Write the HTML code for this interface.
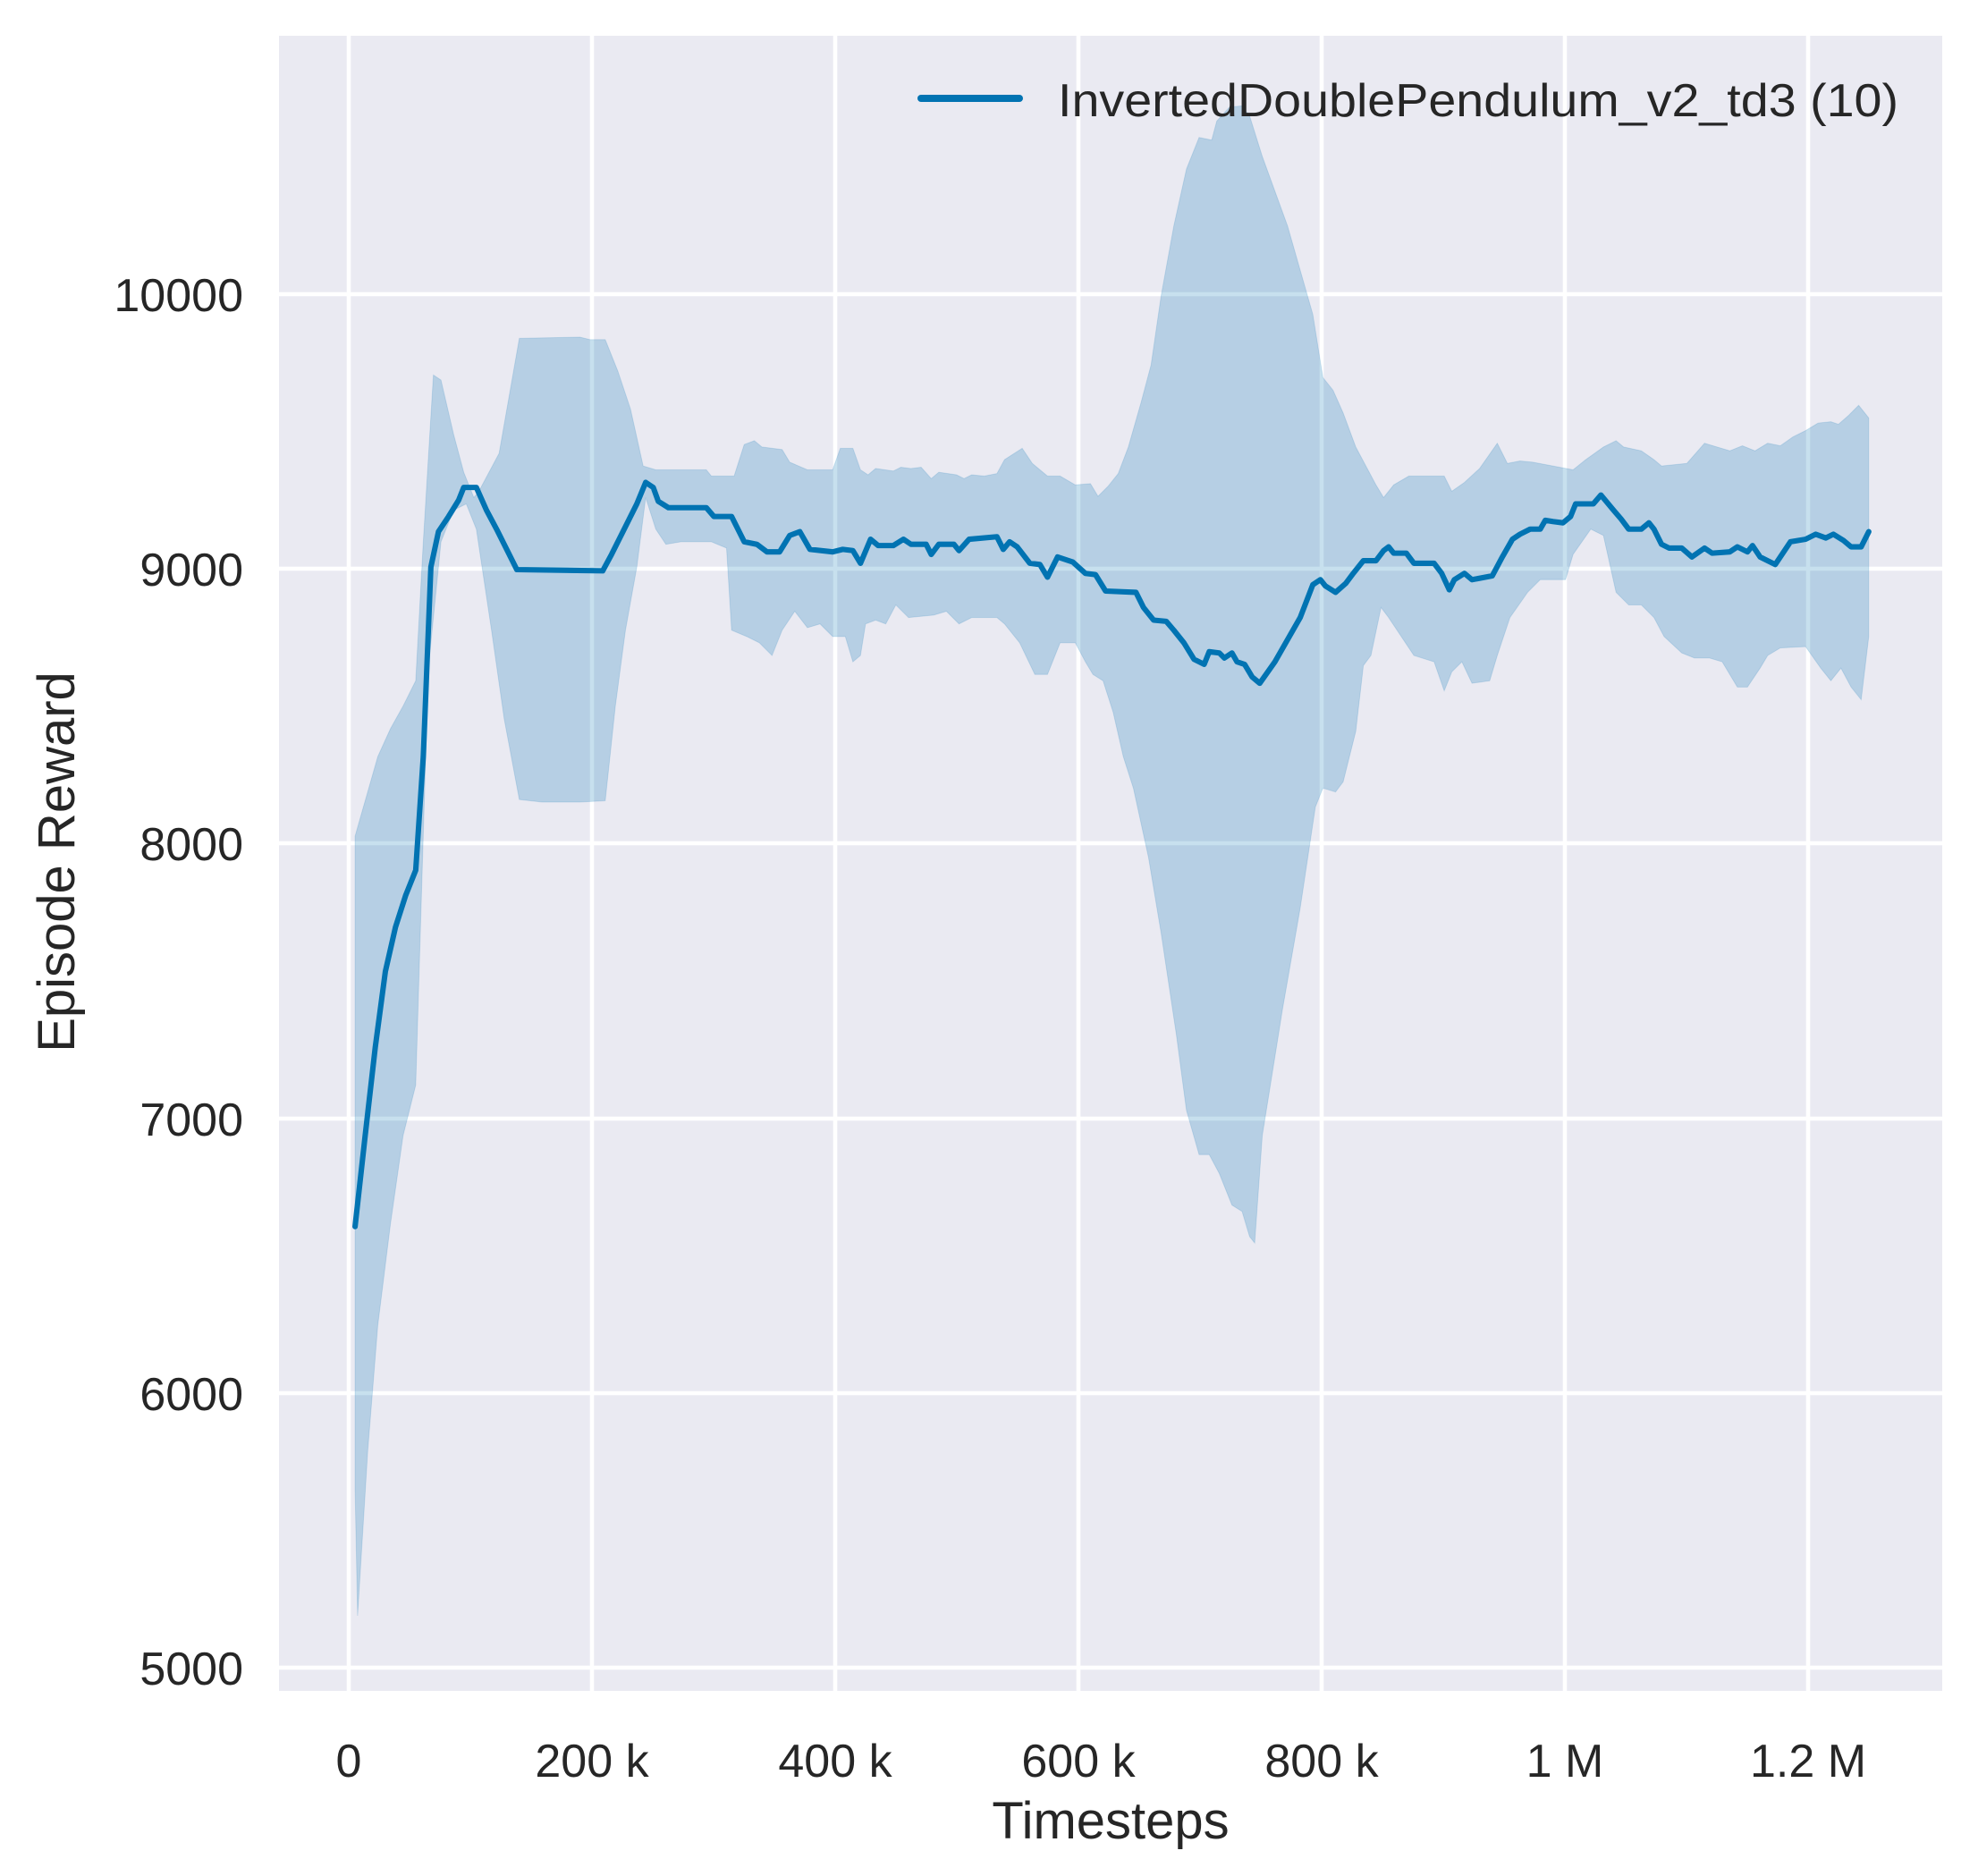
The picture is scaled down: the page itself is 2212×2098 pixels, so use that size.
<!DOCTYPE html>
<html><head><meta charset="utf-8"><style>
html,body{margin:0;padding:0;background:#fff}
svg{display:block}
text{font-family:"Liberation Sans",sans-serif;fill:#262626}
</style></head><body>
<svg width="2212" height="2098" viewBox="0 0 2212 2098">
<rect x="312" y="40" width="1860" height="1851" fill="#eaeaf2"/>
<g stroke="#fff" stroke-width="4.5">
<line x1="390" y1="40" x2="390" y2="1891"/>
<line x1="662" y1="40" x2="662" y2="1891"/>
<line x1="934" y1="40" x2="934" y2="1891"/>
<line x1="1206" y1="40" x2="1206" y2="1891"/>
<line x1="1478" y1="40" x2="1478" y2="1891"/>
<line x1="1750" y1="40" x2="1750" y2="1891"/>
<line x1="2022" y1="40" x2="2022" y2="1891"/>
<line x1="312" y1="329" x2="2172" y2="329"/>
<line x1="312" y1="636" x2="2172" y2="636"/>
<line x1="312" y1="943" x2="2172" y2="943"/>
<line x1="312" y1="1251" x2="2172" y2="1251"/>
<line x1="312" y1="1558" x2="2172" y2="1558"/>
<line x1="312" y1="1865" x2="2172" y2="1865"/>
</g>
<g transform="matrix(1.413,0,0,1.413,-1.4,-1.7)">
<path fill="#0173b2" fill-opacity="0.22" stroke="#0173b2" stroke-opacity="0.15" stroke-width="0.7" d="M282,663 L290,635 300,600 310,578 320,560 330,540 336,430 344,298 350,302 360,345 368,375 376,395 380,390 396,360 412,269 460,268 468,270 480,270 490,295 500,325 510,370 520,373 560,373 564,378 582,378 590,353 598,350 604,355 620,357 626,367 640,373 660,373 666,356 676,356 682,373 688,377 694,372 708,374 714,371 722,372 730,371 738,380 744,375 758,377 764,380 770,377 780,378 790,376 796,365 810,356 818,368 830,378 840,378 852,385 864,384 870,394 878,386 886,376 894,355 904,320 912,290 920,235 930,180 940,135 950,110 960,112 964,97 974,86 984,85 990,93 1000,125 1020,180 1040,250 1048,300 1056,310 1064,328 1074,355 1082,370 1090,385 1096,395 1104,385 1116,378 1144,378 1150,390 1160,383 1172,372 1186,352 1194,368 1204,366 1214,367 1230,370 1246,373 1256,365 1270,355 1280,350 1286,355 1300,358 1310,365 1316,370 1336,368 1350,352 1360,355 1370,358 1380,354 1390,358 1400,352 1410,354 1420,347 1430,342 1440,336 1450,335 1456,337 1464,330 1472,322 1480,332 1480,470 1480,505 1474,555 1466,545 1458,530 1450,540 1442,530 1430,513 1410,514 1400,520 1394,530 1384,545 1376,545 1370,535 1364,525 1354,522 1342,522 1332,518 1318,505 1310,490 1300,480 1290,480 1280,470 1270,425 1260,420 1246,440 1240,460 1220,460 1210,470 1196,490 1186,520 1180,540 1166,542 1158,525 1150,533 1144,548 1136,525 1120,520 1110,505 1100,490 1094,482 1086,520 1080,528 1074,580 1064,620 1058,628 1048,625 1042,640 1030,720 1016,800 1000,900 994,985 990,980 984,960 976,955 966,930 958,915 950,915 940,880 932,820 920,740 910,680 898,625 890,600 882,565 874,540 866,535 860,525 852,510 840,510 830,535 820,535 808,510 796,495 790,490 770,490 760,495 750,485 740,488 720,490 710,480 702,495 694,492 686,495 682,520 676,525 670,505 660,505 650,495 640,498 630,485 620,500 612,520 602,510 592,505 580,500 576,435 564,430 540,430 528,432 520,420 512,395 505,450 496,500 488,560 480,635 460,636 430,636 412,634 400,570 390,500 378,420 370,400 360,405 350,430 340,530 330,860 320,900 310,970 300,1050 292,1150 284,1280 282,1180 Z"/>
<path fill="none" stroke="#0173b2" stroke-width="4.3" stroke-linejoin="round" stroke-linecap="round" d="M282,972 L290,900 298,830 306,770 314,735 322,710 330,690 336,600 342,450 348,422 356,410 364,397 368,387 378,387 386,405 394,420 410,452 478,453 485,440 495,420 505,400 512,383 518,387 522,398 530,403 560,403 566,410 580,410 590,430 600,432 608,438 618,438 626,425 634,422 642,436 660,438 668,436 676,437 682,447 690,428 696,433 708,433 716,428 722,432 734,432 738,440 744,432 756,432 760,437 768,428 790,426 795,436 800,430 806,434 816,447 824,448 830,458 838,442 850,446 860,455 868,456 876,469 900,470 906,482 914,492 924,493 930,500 938,510 946,523 954,527 958,517 966,518 970,522 976,518 980,525 986,527 992,537 998,542 1010,525 1030,490 1040,464 1046,460 1050,465 1058,470 1066,463 1072,455 1080,445 1090,445 1096,437 1100,434 1104,439 1114,439 1120,447 1136,447 1142,455 1148,468 1152,460 1160,455 1166,460 1182,457 1190,442 1198,428 1204,424 1212,420 1220,420 1224,413 1230,414 1238,415 1244,410 1248,400 1262,400 1268,393 1278,405 1284,412 1290,420 1300,420 1306,415 1310,420 1316,432 1322,435 1332,435 1340,442 1350,435 1356,439 1370,438 1376,434 1384,438 1388,433 1394,442 1406,448 1418,430 1430,428 1438,424 1446,427 1452,424 1460,429 1466,434 1474,434 1480,422"/>
</g>
<line x1="1030" y1="110" x2="1140" y2="110" stroke="#0173b2" stroke-width="8" stroke-linecap="round"/>
<text x="1183" y="130" font-size="52" textLength="940" lengthAdjust="spacingAndGlyphs">InvertedDoublePendulum_v2_td3 (10)</text>
<g font-size="52" text-anchor="end">
<text x="272" y="348">10000</text>
<text x="272" y="655">9000</text>
<text x="272" y="962">8000</text>
<text x="272" y="1270">7000</text>
<text x="272" y="1577">6000</text>
<text x="272" y="1884">5000</text>
</g>
<g font-size="52" text-anchor="middle">
<text x="390" y="1987">0</text>
<text x="662" y="1987">200 k</text>
<text x="934" y="1987">400 k</text>
<text x="1206" y="1987">600 k</text>
<text x="1478" y="1987">800 k</text>
<text x="1750" y="1987">1 M</text>
<text x="2022" y="1987">1.2 M</text>
</g>
<text x="1242" y="2056" font-size="58" text-anchor="middle">Timesteps</text>
<text transform="translate(83,964) rotate(-90)" font-size="58" text-anchor="middle">Episode Reward</text>
</svg>
</body></html>
